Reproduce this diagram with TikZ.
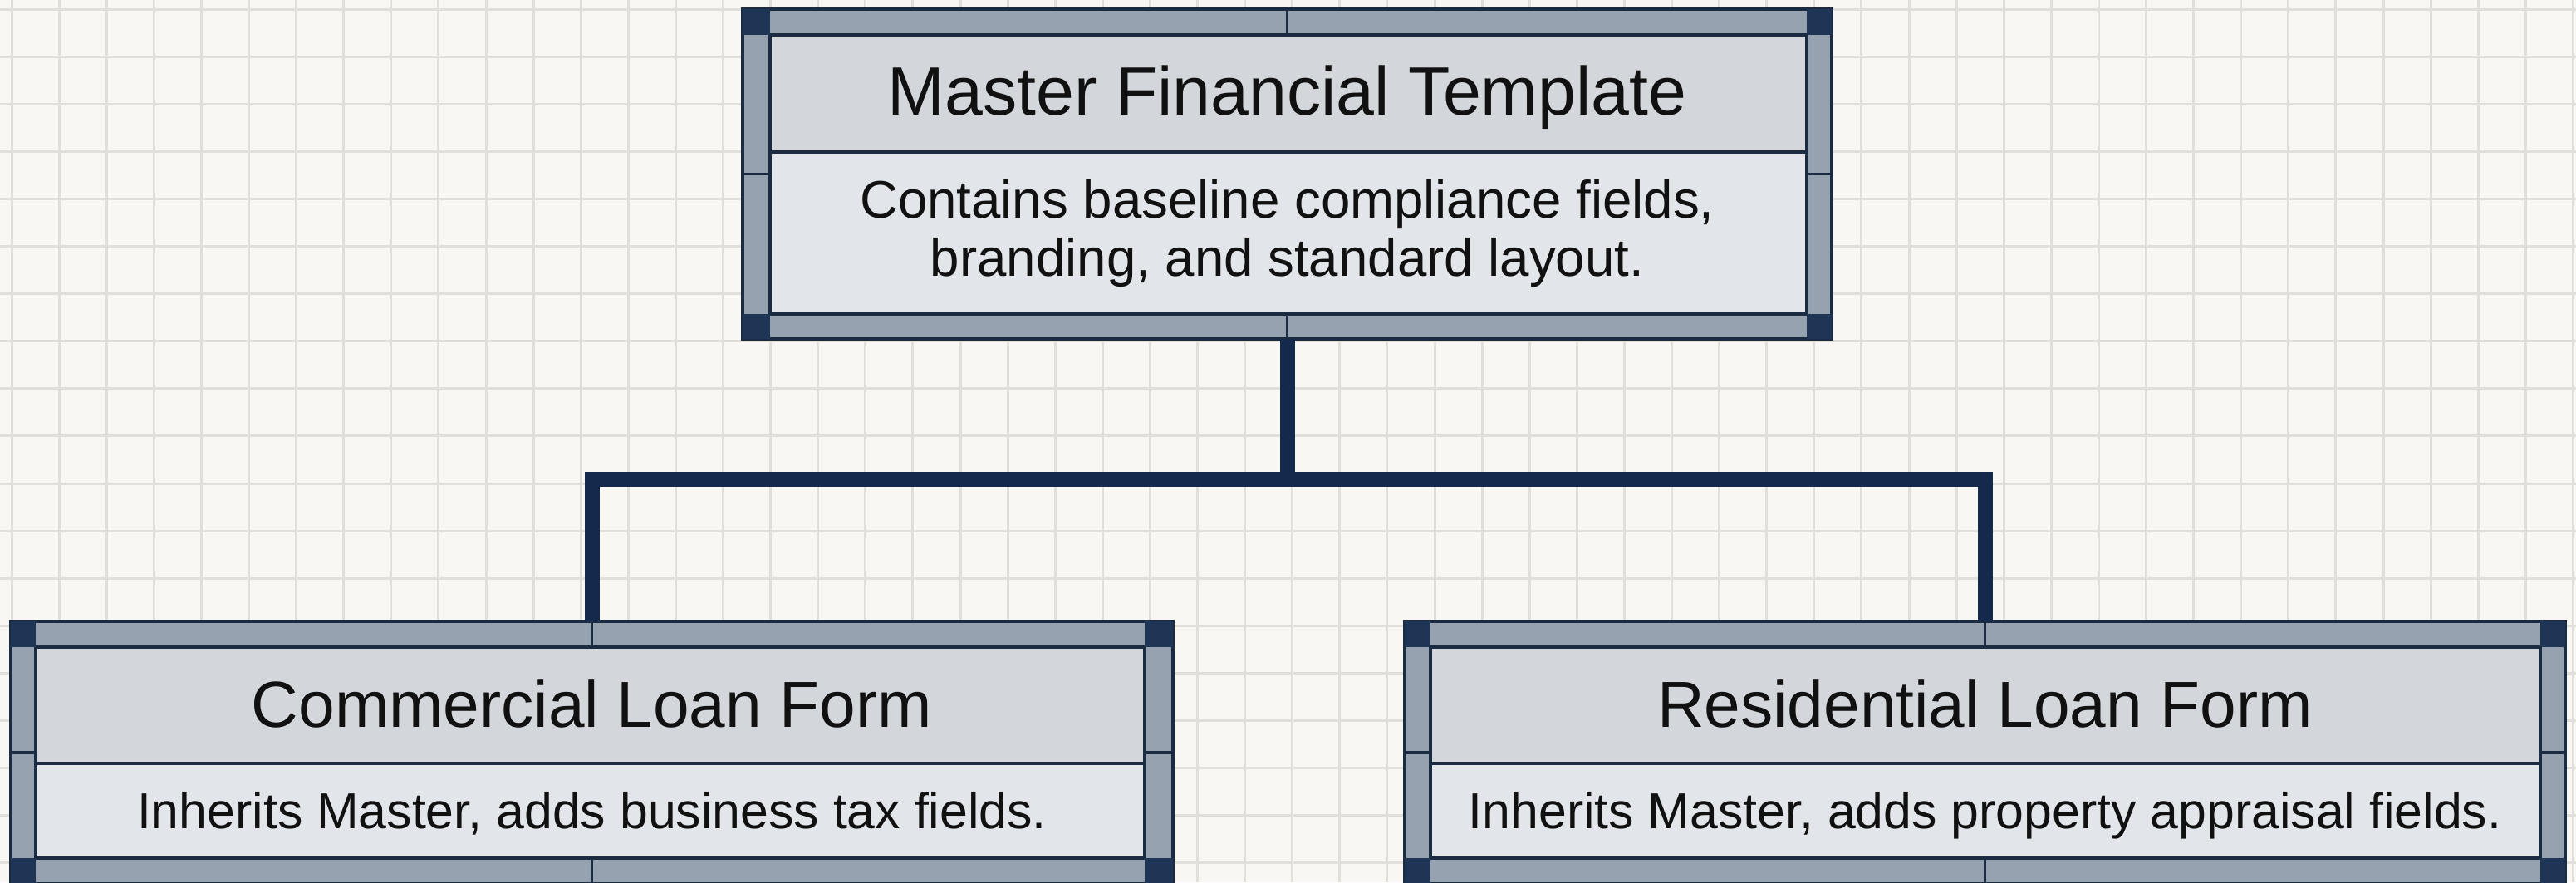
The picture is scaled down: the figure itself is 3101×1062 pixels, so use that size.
\documentclass[tikz,border=0pt]{standalone}
\usepackage{fontspec}
\setmainfont{Liberation Sans}
\usepackage{tikz}
\definecolor{paper}{HTML}{F8F7F3}
\definecolor{gridline}{HTML}{E0DFDA}
\definecolor{bandgrey}{HTML}{96A2B0}
\definecolor{navy}{HTML}{1E3556}
\definecolor{edge}{HTML}{1A2B42}
\definecolor{headgrey}{HTML}{D3D7DC}
\definecolor{bodygrey}{HTML}{E2E5E9}
\definecolor{linkblue}{HTML}{132A4C}
\definecolor{ink}{HTML}{111111}
\tikzset{every picture/.style={line width=0.75pt},
	gridrule/.style={draw=gridline, line width=0.75pt},
	cardframe/.style={draw=edge, fill=bandgrey, line width=1pt, inner sep=0pt, outer sep=0pt},
	cornerbox/.style={fill=navy},
	headpanel/.style={fill=headgrey, draw=edge, line width=1pt},
	bodypanel/.style={fill=bodygrey, draw=edge, line width=1pt},
	seam/.style={draw=edge, line width=0.8pt},
	link/.style={draw=linkblue, line width=4.5pt},
	titletext/.style={text=ink, font=\fontsize{19.6pt}{24pt}\selectfont, anchor=base},
	desctext/.style={text=ink, font=\fontsize{15.2pt}{17.5pt}\selectfont, align=center}}

\begin{document}
\begin{tikzpicture}[x=0.25pt,y=0.25pt,yscale=-1,xscale=1]
	\useasboundingbox (0,0) rectangle (3101,1062);
	
	%Paper and grid
	\fill[paper] (0,0) rectangle (3101,1062);
	\foreach \gx in {0,...,54} \draw[gridrule] (14+57.1*\gx,0) -- (14+57.1*\gx,1062);
	\foreach \gy in {0,...,18} \draw[gridrule] (0,11+57.1*\gy) -- (3101,11+57.1*\gy);
	
	%Card frames
	\node[cardframe, minimum width=327.75pt, minimum height=99.25pt] (master) at (1549.5,209.5) {};
	\node[cardframe, minimum width=349.75pt, minimum height=79pt] (commercial) at (712.5,906) {};
	\node[cardframe, minimum width=349.25pt, minimum height=79pt] (residential) at (2389.5,906) {};
	
	%Connectors
	\draw[link] (master.south) -- ++(0,169) -| (commercial.north);
	\draw[link] (master.south) -- ++(0,169) -| (residential.north);
	
	%Master card: panels
	\draw[headpanel] (927,42) rectangle (2175,183);
	\draw[bodypanel] (927,183) rectangle (2175,378);
	%Master card: corners
	\fill[cornerbox] (894,11) rectangle (927,42);
	\fill[cornerbox] (2175,11) rectangle (2205,42);
	\fill[cornerbox] (894,378) rectangle (927,408);
	\fill[cornerbox] (2175,378) rectangle (2205,408);
	%Master card: seams
	\draw[seam] (1549.5,11) -- (1549.5,42);
	\draw[seam] (1549.5,378) -- (1549.5,408);
	\draw[seam] (894,209.5) -- (927,209.5);
	\draw[seam] (2175,209.5) -- (2205,209.5);
	
	%Commercial card: panels
	\draw[headpanel] (43,779) rectangle (1378,919);
	\draw[bodypanel] (43,919) rectangle (1378,1033);
	%Commercial card: corners
	\fill[cornerbox] (13,748) rectangle (43,779);
	\fill[cornerbox] (1378,748) rectangle (1412,779);
	\fill[cornerbox] (13,1033) rectangle (43,1064);
	\fill[cornerbox] (1378,1033) rectangle (1412,1064);
	%Commercial card: seams
	\draw[seam] (712.5,748) -- (712.5,779);
	\draw[seam] (712.5,1033) -- (712.5,1064);
	\draw[seam] (13,906) -- (43,906);
	\draw[seam] (1378,906) -- (1412,906);
	
	%Residential card: panels
	\draw[headpanel] (1722,779) rectangle (3058,919);
	\draw[bodypanel] (1722,919) rectangle (3058,1033);
	%Residential card: corners
	\fill[cornerbox] (1691,748) rectangle (1722,779);
	\fill[cornerbox] (3058,748) rectangle (3088,779);
	\fill[cornerbox] (1691,1033) rectangle (1722,1064);
	\fill[cornerbox] (3058,1033) rectangle (3088,1064);
	%Residential card: seams
	\draw[seam] (2389.5,748) -- (2389.5,779);
	\draw[seam] (2389.5,1033) -- (2389.5,1064);
	\draw[seam] (1691,906) -- (1722,906);
	\draw[seam] (3058,906) -- (3088,906);
	
	% Text Node
	\node[titletext, font=\fontsize{20.6pt}{24pt}\selectfont] (mastertitle) at (1549.5,138) {Master Financial Template};
	% Text Node
	\node[desctext, font=\fontsize{15.9pt}{17.5pt}\selectfont] (masterdesc) at (1549.5,281) {Contains baseline compliance fields,\\ branding, and standard layout.};
	% Text Node
	\node[titletext] (commercialtitle) at (712.5,875) {Commercial Loan Form};
	% Text Node
	\node[desctext, anchor=base] (commercialdesc) at (712.5,997) {Inherits Master, adds business tax fields.};
	% Text Node
	\node[titletext] (residentialtitle) at (2389.5,875) {Residential Loan Form};
	% Text Node
	\node[desctext, anchor=base] (residentialdesc) at (2389.5,997) {Inherits Master, adds property appraisal fields.};
	
\end{tikzpicture}
\end{document}
